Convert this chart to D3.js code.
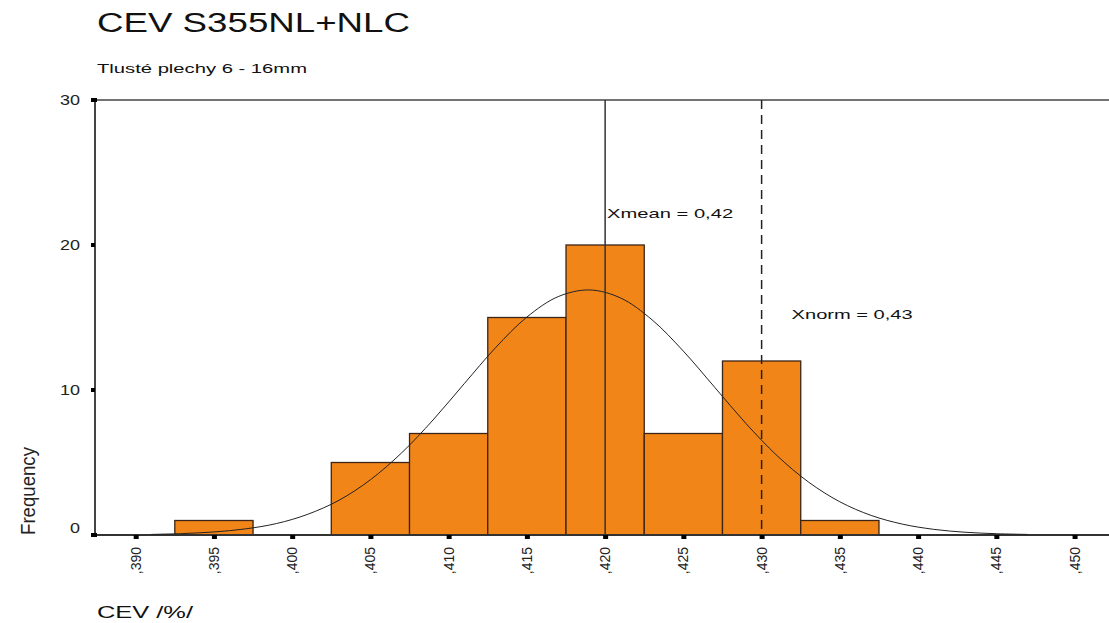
<!DOCTYPE html>
<html><head><meta charset="utf-8">
<script src="https://cdn.jsdelivr.net/npm/d3@7/dist/d3.min.js"></script>
<style>body{margin:0;background:#fff}text{font-family:Arial,"Liberation Sans",sans-serif}</style>
</head><body><svg id="c" width="1109" height="623"></svg>
<script>
// data
const binCenters = [395, 400, 405, 410, 415, 420, 425, 430, 435];
const frequencies = [1, 0, 5, 7, 15, 20, 7, 12, 1];
const binWidth = 5;
const curveX = [391,393,395,397,399,401,403,405,407,409,411,413,415,417,419,421,423,425,427,429,431,433,435,437,439,441,443,445,447];
const curveY = [0.04,0.10,0.21,0.42,0.79,1.43,2.40,3.81,5.67,7.93,10.44,12.92,15.03,16.44,16.9,16.34,14.84,12.68,10.19,7.69,5.46,3.65,2.29,1.35,0.75,0.39,0.19,0.09,0.04];
const xTicks = [390,395,400,405,410,415,420,425,430,435,440,445,450];
const xTickLabels = [",390",",395",",400",",405",",410",",415",",420",",425",",430",",435",",440",",445",",450"];
const yTicks = [0,10,20,30];
const meanValue = 420, meanLabel = "Xmean = 0,42";
const normValue = 430, normLabel = "Xnorm = 0,43";

const svg = d3.select("#c");
const L = 95, T = 100, R = 1109, B = 535;
const x = d3.scaleLinear().domain([387.4, 452.2]).range([L, R]);
const y = d3.scaleLinear().domain([0, 30]).range([B, T]);

function txt(xp, yp, size, str, len) {
  return svg.append("text").attr("x", xp).attr("y", yp).attr("font-size", size).attr("fill", "#111")
    .attr("textLength", len).attr("lengthAdjust", "spacingAndGlyphs").text(str);
}
txt(97, 32, 27, "CEV S355NL+NLC", 313);
txt(97, 73, 13, "Tlusté plechy 6 - 16mm", 210);

// bars
svg.append("g").selectAll("rect").data(binCenters).join("rect")
  .attr("x", (d) => x(d - binWidth / 2))
  .attr("width", x(binWidth) - x(0))
  .attr("y", (d, i) => y(frequencies[i]))
  .attr("height", (d, i) => y(0) - y(frequencies[i]))
  .attr("fill", "#F28518").attr("stroke", "#3b2418").attr("stroke-width", 1.3)
  .style("display", (d, i) => frequencies[i] > 0 ? null : "none");

// frame
svg.append("line").attr("x1", L).attr("x2", R).attr("y1", T).attr("y2", T).attr("stroke", "#444").attr("stroke-width", 1.5);
svg.append("line").attr("x1", L).attr("x2", L).attr("y1", T).attr("y2", B).attr("stroke", "#444").attr("stroke-width", 2);
svg.append("line").attr("x1", L).attr("x2", R).attr("y1", B).attr("y2", B).attr("stroke", "#333").attr("stroke-width", 2);

// curve
const line = d3.line().x((d) => x(d)).y((d, i) => y(curveY[i])).curve(d3.curveCatmullRom);
svg.append("path").attr("d", line(curveX)).attr("fill", "none").attr("stroke", "#222").attr("stroke-width", 1);

// mean & norm lines
svg.append("line").attr("x1", x(meanValue)).attr("x2", x(meanValue)).attr("y1", T).attr("y2", B).attr("stroke", "#333").attr("stroke-width", 1.5);
svg.append("line").attr("x1", x(normValue)).attr("x2", x(normValue)).attr("y1", T).attr("y2", B).attr("stroke", "#222").attr("stroke-width", 1.5).attr("stroke-dasharray", "9,6");
txt(x(meanValue) + 2, 218, 13.5, meanLabel, 126);
txt(x(normValue) + 30, 319, 13.5, normLabel, 121);

// y axis
const ya = svg.append("g");
ya.selectAll("text").data(yTicks).join("text")
  .attr("x", 80).attr("y", (d) => y(d) + (d === 0 ? -2 : 5)).attr("text-anchor", "end").attr("font-size", 14).attr("fill", "#222")
  .attr("textLength", (d) => String(d).length * 10).attr("lengthAdjust", "spacingAndGlyphs").text((d) => d);
ya.selectAll("rect").data(yTicks).join("rect")
  .attr("x", L - 4).attr("y", (d) => y(d) - 2).attr("width", (d) => (d === 0 || d === 30) ? 6 : 4).attr("height", 4).attr("fill", "#000");

// x axis
const xa = svg.append("g");
xa.selectAll("rect").data(xTicks).join("rect")
  .attr("x", (d) => x(d) - 2).attr("y", B).attr("width", 5).attr("height", 4).attr("fill", "#000");
xa.selectAll("text").data(xTicks).join("text")
  .attr("transform", (d) => `translate(${x(d) + 5},547) rotate(-90)`)
  .attr("text-anchor", "end").attr("font-size", 14).attr("fill", "#222")
  .text((d, i) => xTickLabels[i]);

svg.append("text").attr("transform", "translate(35,535) rotate(-90)").attr("font-size", 21).attr("fill", "#222")
  .attr("textLength", 88).attr("lengthAdjust", "spacingAndGlyphs").text("Frequency");
txt(97, 618, 16, "CEV /%/", 96);
</script></body></html>
